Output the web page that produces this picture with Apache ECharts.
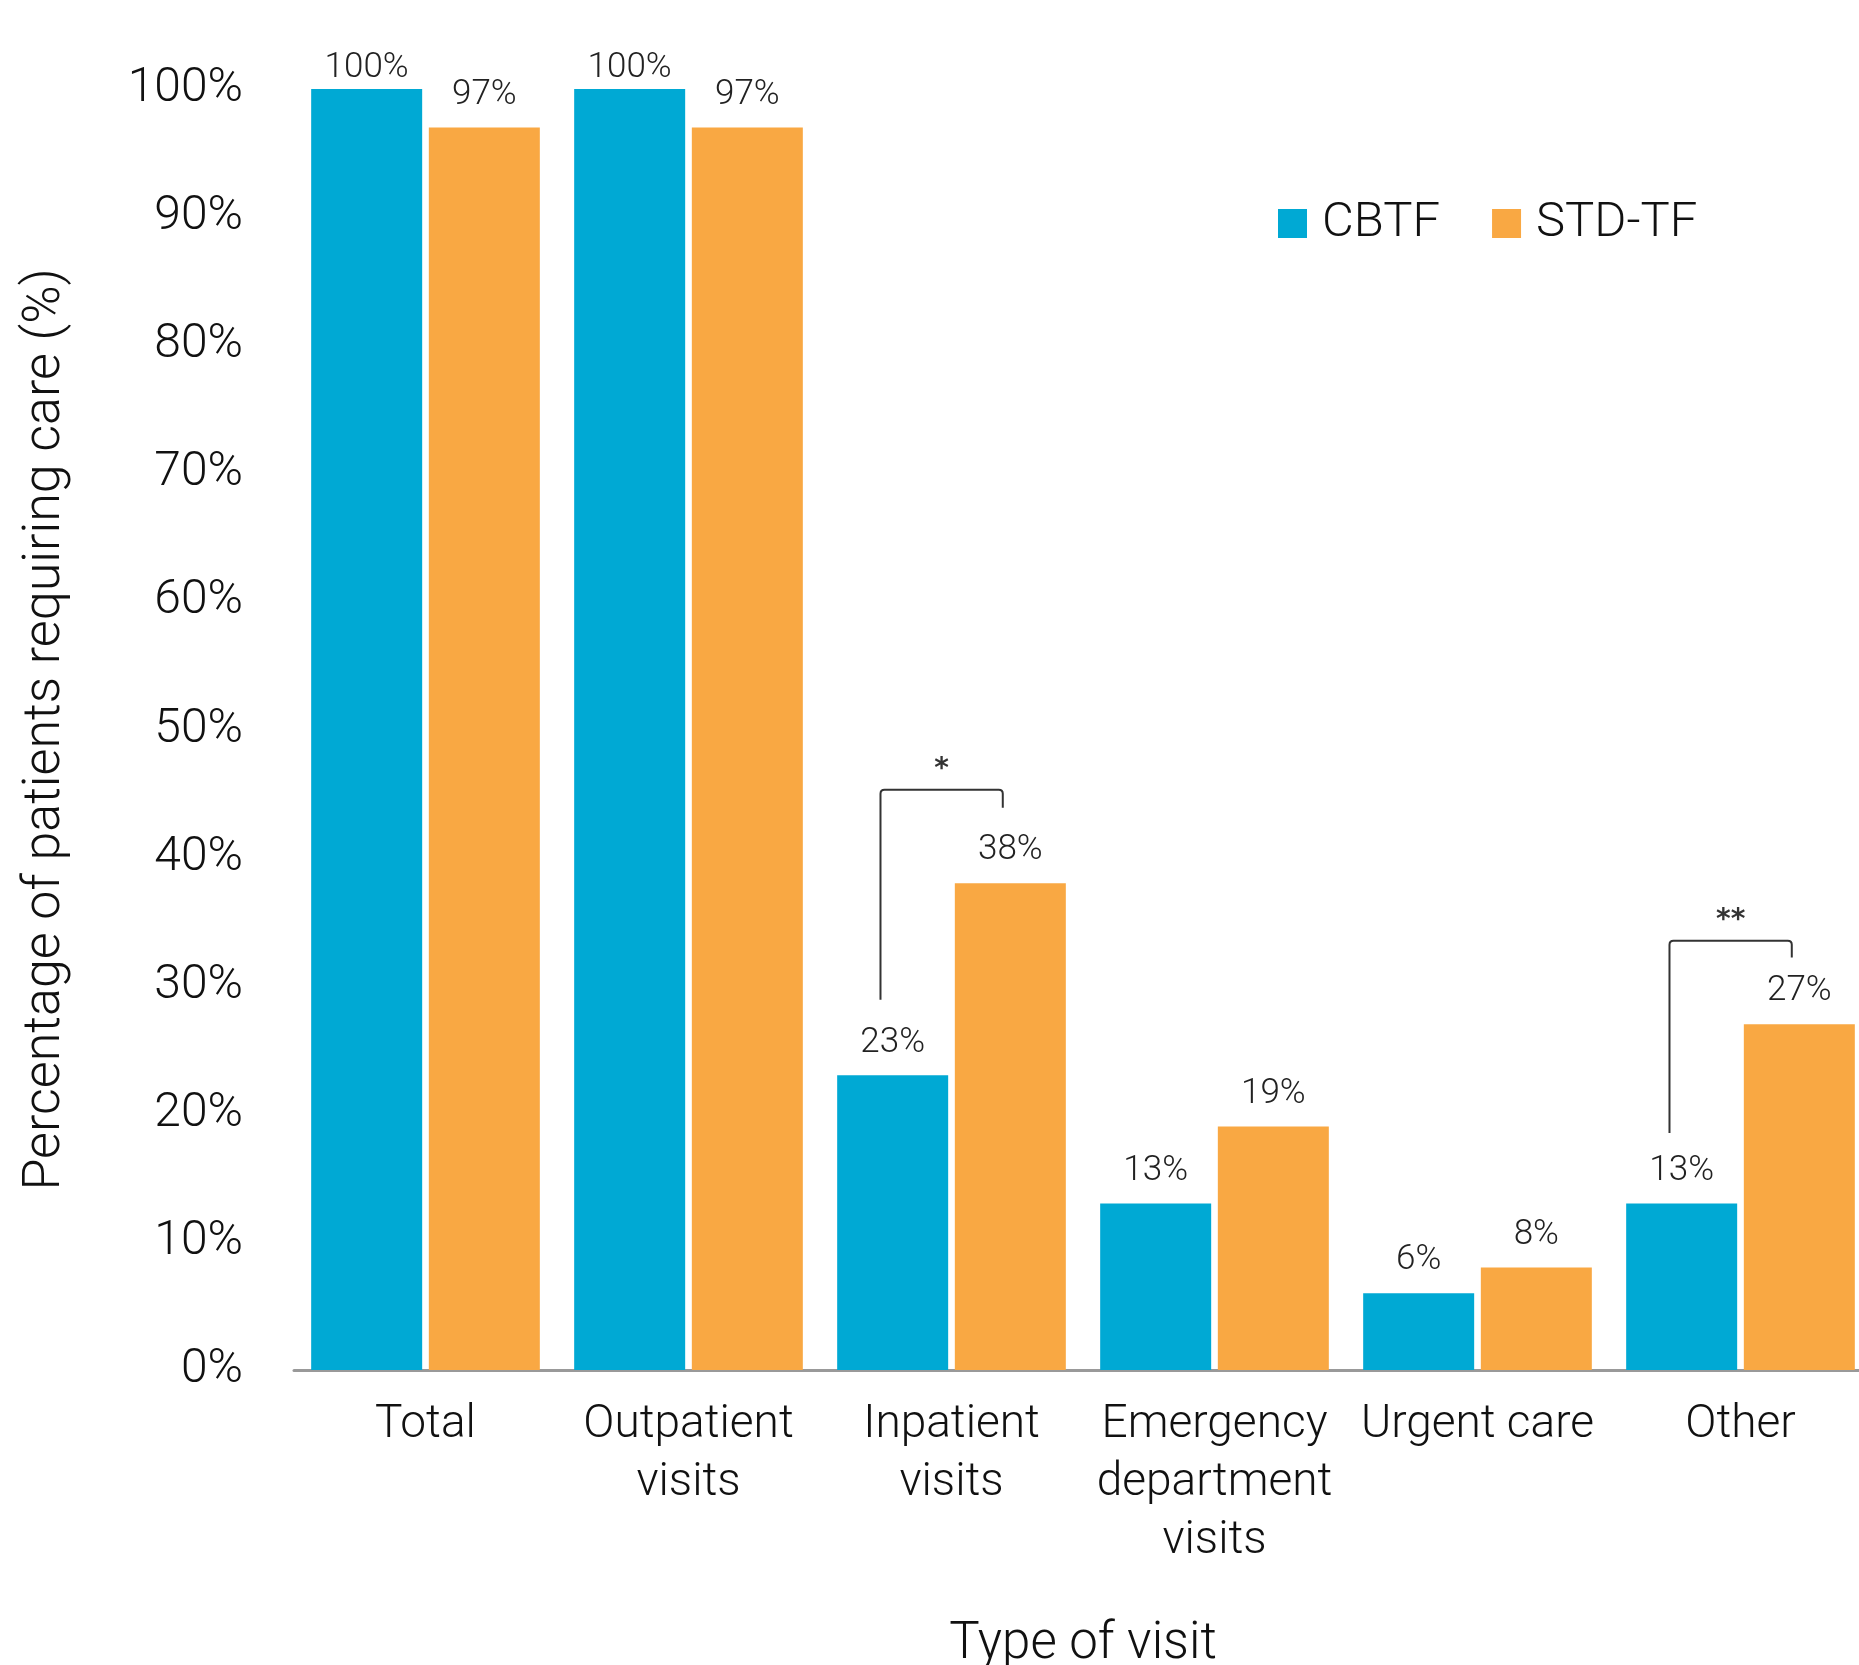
<!DOCTYPE html>
<html>
<head>
<meta charset="utf-8">
<script src="https://cdn.jsdelivr.net/npm/echarts@6/dist/echarts.min.js"></script>
<style>
  html, body { margin: 0; padding: 0; background: #fff; }
  #main { width: 1859px; height: 1665px; }
</style>
</head>
<body>
<div id="main"></div>
<script>
// chart data
var categories = ['Total', 'Outpatient\nvisits', 'Inpatient\nvisits', 'Emergency\ndepartment\nvisits', 'Urgent care', 'Other'];
var cbtf = [100, 100, 23, 13, 6, 13];
var stdtf = [97, 97, 38, 19, 8, 27];
var yTicks = [0, 10, 20, 30, 40, 50, 60, 70, 80, 90, 100];
// significance brackets: [category index, top, left foot, right foot, mark]
var brackets = [
    [2, 45.3, 28.9, 43.9, '*'],
    [5, 33.5, 18.5, 32.2, '**']
];

var blue = '#00A9D4';
var orange = '#F9A843';
var font = 'Roboto';

var myChart = echarts.init(document.getElementById('main'));

function labelData(values) {
    return values.map(function (v) {
        // the 100% labels sit closer to the bar top in the original
        if (v === 100) return { value: v, label: { distance: 3 } };
        return v;
    });
}

var option = {
    backgroundColor: '#fff',
    textStyle: { fontFamily: font },
    grid: {
        left: 294,
        width: 1578,   // last category runs past the right edge, as in the original
        top: 89,
        bottom: 295,
        outerBoundsMode: 'none'
    },
    legend: {
        data: ['CBTF', 'STD-TF'],
        left: 1273,
        top: 194,
        itemWidth: 29,
        itemHeight: 29,
        itemGap: 52,
        icon: 'rect',
        textStyle: { fontFamily: font, fontSize: 49, fontWeight: 300, color: '#111', padding: [0, 0, 0, 10] }
    },
    xAxis: {
        type: 'category',
        data: categories,
        name: 'Type of visit',
        nameLocation: 'middle',
        nameGap: 250,
        nameTextStyle: { fontFamily: font, fontSize: 51, fontWeight: 300, color: '#111' },
        axisLine: { lineStyle: { color: '#999', width: 3 } },
        axisTick: { show: false },
        axisLabel: {
            interval: 0,
            margin: 26,
            fontSize: 46,
            fontWeight: 300,
            lineHeight: 58,
            color: '#111'
        }
    },
    yAxis: {
        type: 'value',
        min: yTicks[0],
        max: yTicks[yTicks.length - 1],
        interval: 10,
        name: 'Percentage of patients requiring care (%)',
        nameLocation: 'middle',
        nameGap: 222,
        nameTextStyle: { fontFamily: font, fontSize: 52, fontWeight: 300, color: '#111' },
        axisLine: { show: false },
        axisTick: { show: false },
        splitLine: { show: false },
        axisLabel: {
            formatter: '{value}%',
            margin: 51,
            fontSize: 48,
            fontWeight: 300,
            color: '#111'
        }
    },
    series: [
        {
            name: 'CBTF',
            type: 'bar',
            barWidth: 111,
            barGap: '6%',
            itemStyle: { color: blue },
            label: {
                show: true,
                position: 'top',
                distance: 15,
                formatter: '{c}%',
                fontSize: 35,
                fontWeight: 300,
                color: '#222'
            },
            data: labelData(cbtf)
        },
        {
            name: 'STD-TF',
            type: 'bar',
            barWidth: 111,
            barGap: '6%',
            itemStyle: { color: orange },
            label: {
                show: true,
                position: 'top',
                distance: 15,
                formatter: '{c}%',
                fontSize: 35,
                fontWeight: 300,
                color: '#222'
            },
            data: labelData(stdtf)
        },
        {
            name: 'sig',
            type: 'custom',
            silent: true,
            z: 5,
            data: brackets,
            encode: { x: 0, y: 1 },
            renderItem: function (params, api) {
                var idx = api.value(0);
                var band = api.size([1, 0])[0];
                var top = api.coord([idx, api.value(1)]);
                var lBottom = api.coord([idx, api.value(2)])[1];
                var rBottom = api.coord([idx, api.value(3)])[1];
                var xl = top[0] - band * 0.27;
                var xr = top[0] + band * 0.195;
                var y = top[1];
                var r = 4;
                return {
                    type: 'group',
                    children: [
                        {
                            type: 'path',
                            shape: {
                                pathData: 'M' + xl + ' ' + lBottom +
                                    ' L' + xl + ' ' + (y + r) +
                                    ' Q' + xl + ' ' + y + ' ' + (xl + r) + ' ' + y +
                                    ' L' + (xr - r) + ' ' + y +
                                    ' Q' + xr + ' ' + y + ' ' + xr + ' ' + (y + r) +
                                    ' L' + xr + ' ' + rBottom
                            },
                            style: { fill: null, stroke: '#333', lineWidth: 2 }
                        },
                        {
                            type: 'text',
                            style: {
                                text: api.value(4),
                                x: (xl + xr) / 2,
                                y: y - 6,
                                align: 'center',
                                verticalAlign: 'bottom',
                                font: 'bold 28px DejaVu Sans',
                                fill: '#333'
                            }
                        }
                    ]
                };
            }
        }
    ]
};
myChart.setOption(option);
</script>
</body>
</html>
